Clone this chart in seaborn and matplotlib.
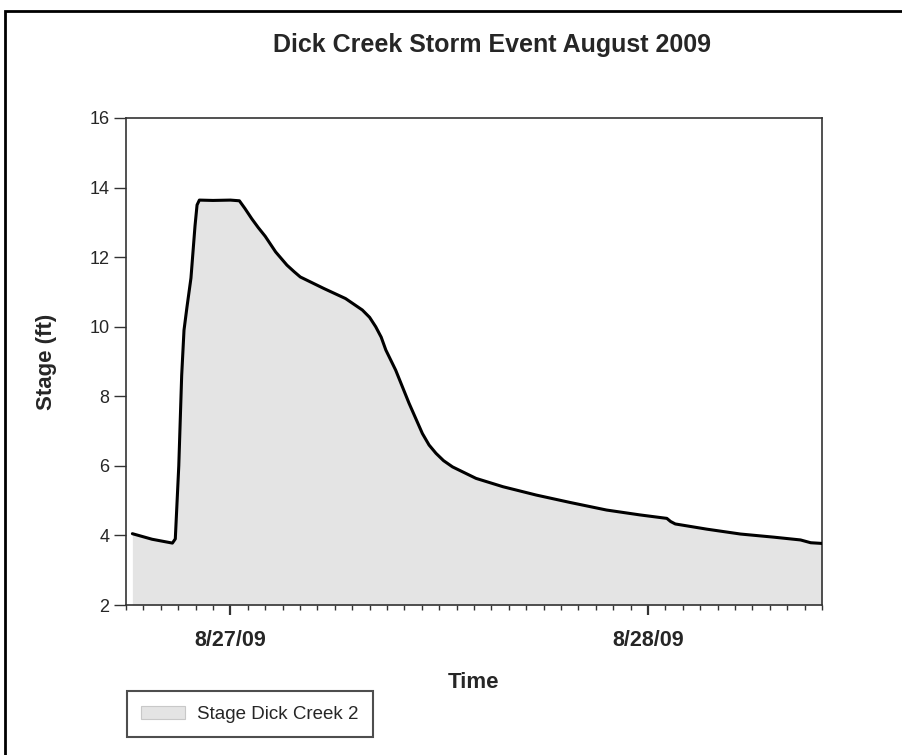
import matplotlib
matplotlib.use("Agg")
import matplotlib.pyplot as plt
import matplotlib.dates as mdates
from matplotlib.patches import Patch, Rectangle
import pandas as pd
import seaborn as sns

# Stage record, Dick Creek gauge 2
times = [
    "2009-08-26 18:22", "2009-08-26 19:30", "2009-08-26 20:40", "2009-08-26 20:50",
    "2009-08-26 21:02", "2009-08-26 21:12", "2009-08-26 21:20", "2009-08-26 21:30",
    "2009-08-26 21:44", "2009-08-26 21:58", "2009-08-26 22:05", "2009-08-26 22:13",
    "2009-08-26 23:00", "2009-08-27 00:00", "2009-08-27 00:31", "2009-08-27 00:50",
    "2009-08-27 01:14", "2009-08-27 01:36", "2009-08-27 02:00", "2009-08-27 02:36",
    "2009-08-27 03:15", "2009-08-27 03:40", "2009-08-27 04:01", "2009-08-27 05:22",
    "2009-08-27 06:37", "2009-08-27 07:35", "2009-08-27 08:00", "2009-08-27 08:21",
    "2009-08-27 08:40", "2009-08-27 08:56", "2009-08-27 09:30", "2009-08-27 10:16",
    "2009-08-27 11:02", "2009-08-27 11:25", "2009-08-27 11:49", "2009-08-27 12:15",
    "2009-08-27 12:46", "2009-08-27 14:07", "2009-08-27 15:40", "2009-08-27 17:35",
    "2009-08-27 19:30", "2009-08-27 21:37", "2009-08-27 23:32", "2009-08-28 01:05",
    "2009-08-28 01:18", "2009-08-28 01:34", "2009-08-28 03:23", "2009-08-28 05:19",
    "2009-08-28 07:14", "2009-08-28 08:46", "2009-08-28 09:21", "2009-08-28 10:00",
]
stage_ft = [
    4.05, 3.89, 3.78, 3.90,
    6.00, 8.60, 9.90, 10.55,
    11.40, 12.90, 13.50, 13.64,
    13.63, 13.64, 13.62, 13.40,
    13.10, 12.85, 12.60, 12.15,
    11.77, 11.58, 11.43, 11.10,
    10.81, 10.48, 10.27, 10.00,
    9.70, 9.33, 8.75, 7.80,
    6.93, 6.60, 6.36, 6.15,
    5.97, 5.64, 5.40, 5.16,
    4.95, 4.73, 4.59, 4.49,
    4.40, 4.33, 4.18, 4.04,
    3.95, 3.87, 3.79, 3.77,
]
series_name = "Stage Dick Creek 2"
title_text = "Dick Creek Storm Event August 2009"
x_label = "Time"
y_label = "Stage (ft)"
y_ticks = [2, 4, 6, 8, 10, 12, 14, 16]

df = pd.DataFrame({"time": pd.to_datetime(times), "stage": stage_ft})

sns.set_style("ticks")
plt.rcParams["font.family"] = ["Liberation Sans", "DejaVu Sans"]

W, H = 902, 755
fig = plt.figure(figsize=(W / 100, H / 100), dpi=100)
ax = fig.add_axes([126 / W, 1 - 605 / H, (822 - 126) / W, (605 - 118) / H])

fill_color = "#e4e4e4"
ax.fill_between(df["time"], 2, df["stage"], color=fill_color, linewidth=0, zorder=1)
sns.lineplot(data=df, x="time", y="stage", ax=ax, color="black", linewidth=2.2,
             legend=False, zorder=3)

ax.set_xlim(pd.Timestamp("2009-08-26 18:00"), pd.Timestamp("2009-08-28 10:00"))
ax.set_ylim(2, 16)
ax.set_yticks(y_ticks)

ax.xaxis.set_major_locator(mdates.DayLocator())
ax.xaxis.set_major_formatter(mdates.DateFormatter("%-m/%d/%y"))
ax.xaxis.set_minor_locator(mdates.HourLocator(interval=1))

for side in ["left", "right", "top", "bottom"]:
    ax.spines[side].set_visible(True)
    ax.spines[side].set_color("#333333")
    ax.spines[side].set_linewidth(1.2)

ax.tick_params(axis="y", which="major", direction="out", length=9, width=1,
               color="#333333", labelsize=13, pad=3)
ax.tick_params(axis="x", which="major", direction="out", length=7, width=1.6,
               color="#333333", labelsize=15.5, pad=11)
ax.tick_params(axis="x", which="minor", direction="out", length=3.5, width=1,
               color="#333333")
for lab in ax.get_xticklabels():
    lab.set_fontweight("bold")

ax.set_xlabel(x_label, fontsize=16, fontweight="bold", va="center")
ax.set_ylabel(y_label, fontsize=16, fontweight="bold", va="center")
ax.xaxis.set_label_coords(0.5, -(682 - 605) / 487)
ax.yaxis.set_label_coords(-(126 - 47) / 696, 0.5)

fig.text(492 / W, 1 - 45 / H, title_text, ha="center", va="center",
         fontsize=18, fontweight="bold")

handle = Patch(facecolor=fill_color, edgecolor="#c8c8c8", linewidth=0.8)
leg = fig.legend([handle], [series_name], loc="lower left",
                 bbox_to_anchor=(127 / W, 18 / H), bbox_transform=fig.transFigure,
                 frameon=True, fancybox=False, fontsize=13.5, handlelength=2.35,
                 handleheight=0.75, borderpad=0.75, handletextpad=0.64,
                 borderaxespad=0)
leg.get_frame().set_edgecolor("#222222")
leg.get_frame().set_linewidth(1.5)

# page frame
fig.patches.append(Rectangle((5 / W, -0.05), 1.1, 1 - 11 / H + 0.05,
                             transform=fig.transFigure, fill=False,
                             edgecolor="black", linewidth=2.0, clip_on=False))

fig.savefig("out.png", dpi=100)
